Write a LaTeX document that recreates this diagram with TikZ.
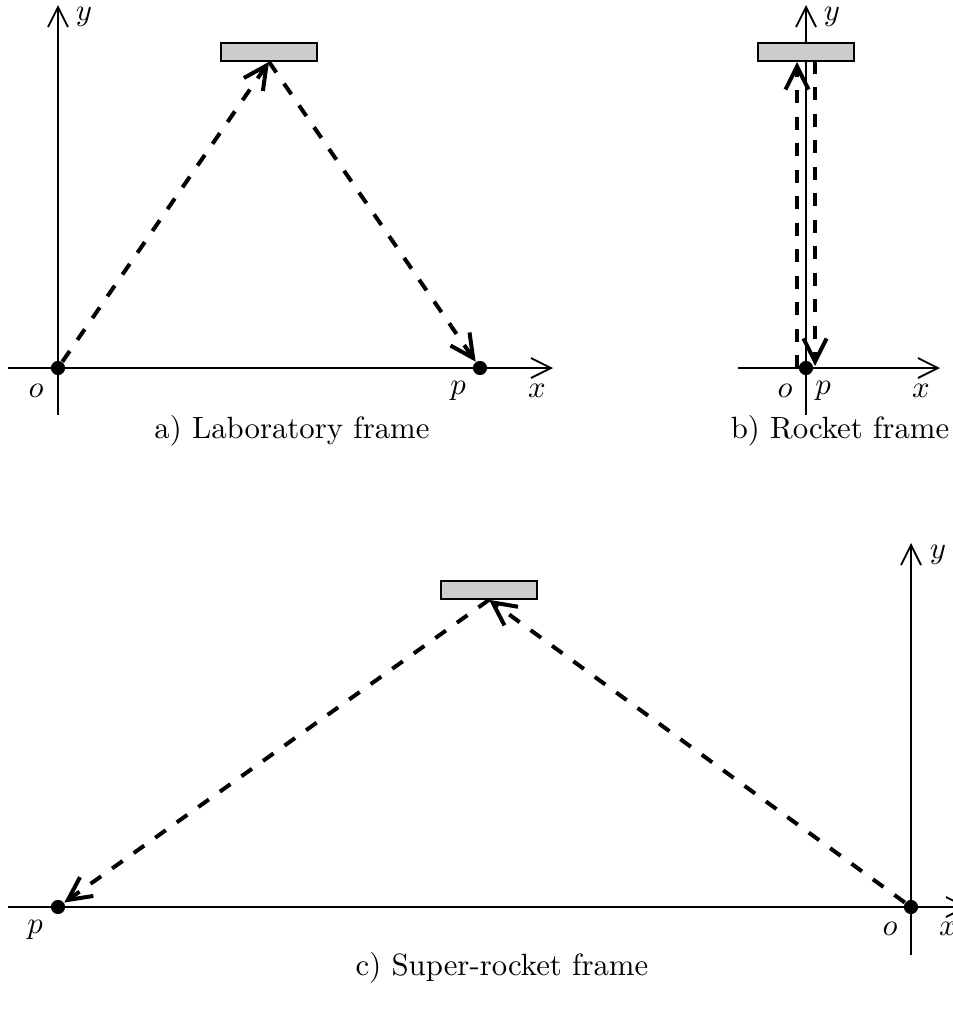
\documentclass[tikz,border=0pt]{standalone}
\usetikzlibrary{positioning, arrows.meta, calc}
\definecolor{mirrorGray}{HTML}{CCCCCC}

\begin{document}
\begin{tikzpicture}[
  x=0.325pt, y=-0.325pt,
  every node/.style={font=\normalsize},
  axis/.style={line width=0.6pt, -{Straight Barb[length=6.5pt, width=6.5pt, line width=0.6pt]}},
  ray/.style={line width=1.3pt, dash pattern=on 4.2pt off 4.4pt,
              -{Straight Barb[length=7.5pt, width=7.5pt, line width=1.3pt]}},
  dot/.style={circle, fill=black, inner sep=0pt, minimum size=4.6pt},
  mirror/.style={rectangle, draw=black, fill=mirrorGray, line width=0.5pt,
                 minimum width=31.2pt, minimum height=5.9pt, inner sep=0pt},
  lbl/.style={inner sep=0pt},
]
  \useasboundingbox (0,0) rectangle (953,1012);

  % a) laboratory frame
  \coordinate (ya_bot) at (58,415);
  \coordinate (ya_top) at (58,5);
  \coordinate (xa_left)  at (8,368);
  \coordinate (xa_right) at (553,368);
  \draw[axis] (ya_bot) -- (ya_top);
  \draw[axis] (xa_left) -- (xa_right);
  \node[mirror] at (269,52) (ma) {};
  \node[dot] at (58,368)  (oa) {};
  \node[dot] at (480,368) (pa) {};
  \node[lbl] at (36,391)  (oa_lbl) {$o$};
  \node[lbl] at (458,391) (pa_lbl) {$p$};
  \node[lbl] at (537,391) (xa_lbl) {$x$};
  \node[lbl] at (84,17)   (ya_lbl) {$y$};
  \draw[ray] (oa) -- (ma.south);
  \draw[ray] (ma.south) -- (pa);
  \node at (292,431) (capa) {a) Laboratory frame};

  % b) rocket frame
  \coordinate (yb_bot) at (806,415);
  \coordinate (yb_top) at (806,5);
  \coordinate (xb_left)  at (738,368);
  \coordinate (xb_right) at (940,368);
  \draw[axis] (yb_bot) -- (yb_top);
  \draw[axis] (xb_left) -- (xb_right);
  \node[mirror] at (806,52) (mb) {};
  \node[dot] at (806,368) (ob) {};
  \coordinate (up_bot)   at (797,368);
  \coordinate (up_top)   at (797,62);
  \coordinate (down_top) at (815,61);
  \coordinate (down_bot) at (815,366);
  \draw[ray] (up_bot) -- (up_top);
  \draw[ray] (down_top) -- (down_bot);
  \node[lbl] at (785,391) (ob_lbl) {$o$};
  \node[lbl] at (823,391) (pb_lbl) {$p$};
  \node[lbl] at (921,391) (xb_lbl) {$x$};
  \node[lbl] at (832,17)  (yb_lbl) {$y$};
  \node at (840,431) (capb) {b) Rocket frame};

  % c) super-rocket frame
  \coordinate (yc_bot) at (911,955);
  \coordinate (yc_top) at (911,543);
  \coordinate (xc_left)  at (8,907);
  \coordinate (xc_right) at (968,907);
  \draw[axis] (yc_bot) -- (yc_top);
  \draw[axis] (xc_left) -- (xc_right);
  \node[mirror] at (489,590) (mc) {};
  \node[dot] at (911,907) (oc) {};
  \node[dot] at (58,907)  (pc) {};
  \node[lbl] at (890,929) (oc_lbl) {$o$};
  \node[lbl] at (35,930)  (pc_lbl) {$p$};
  \node[lbl] at (948,929) (xc_lbl) {$x$};
  \node[lbl] at (938,555) (yc_lbl) {$y$};
  \draw[ray] (oc) -- (mc.south);
  \draw[ray] (mc.south) -- (pc);
  \node at (502,968) (capc) {c) Super-rocket frame};
\end{tikzpicture}
\end{document}
